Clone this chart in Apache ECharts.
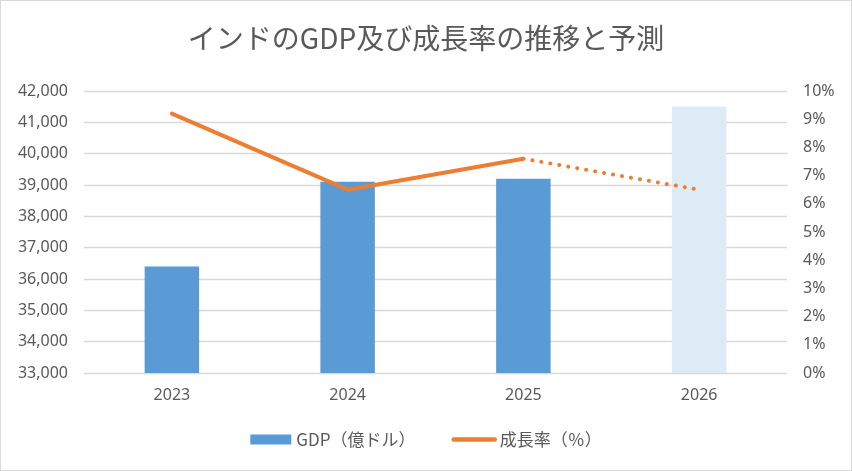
<!DOCTYPE html>
<html>
<head>
<meta charset="utf-8">
<script src="https://cdn.jsdelivr.net/npm/echarts@6/dist/echarts.min.js"></script>
<style>
  html, body { margin: 0; padding: 0; background: #fff; }
  #chart { width: 850px; height: 469px; border: 1px solid #d9d9d9; }
</style>
</head>
<body>
<div id="chart"></div>
<script>
  const years = ['2023', '2024', '2025', '2026'];
  const gdp = [36400, 39100, 39200, 41500];
  const growth = [9.2, 6.5, 7.6, 6.5];
  const forecastFrom = 2; // index where the forecast (dotted) part starts

  const font = '"Noto Sans", "Noto Sans CJK JP", sans-serif';
  const jpFont = '"Noto Sans CJK JP", sans-serif';
  const textColor = '#595959';

  const solidLine = growth.map((v, i) => (i <= forecastFrom ? v : '-'));
  const dottedLine = growth.map((v, i) => (i >= forecastFrom ? v : '-'));
  const barData = gdp.map((v, i) => ({
    value: v,
    itemStyle: i > forecastFrom ? {color: '#DDEBF7'} : undefined
  }));

  const chart = echarts.init(document.getElementById('chart'));
  chart.setOption({
    animation: false,
    textStyle: {fontFamily: font},
    title: {
      text: 'インドのGDP及び成長率の推移と予測',
      left: 'center',
      top: 18,
      textStyle: {fontFamily: jpFont, fontSize: 28, fontWeight: 'normal', color: textColor}
    },
    legend: {
      bottom: 17,
      itemGap: 36,
      itemWidth: 41,
      itemHeight: 10,
      textStyle: {fontFamily: jpFont, fontSize: 17, color: textColor},
      data: [
        {name: 'GDP（億ドル）', icon: 'rect'},
        {name: '成長率（％）', itemStyle: {opacity: 0}, lineStyle: {width: 4.5, cap: 'round'}}
      ]
    },
    grid: {left: 83, right: 64, top: 90, bottom: 97},
    xAxis: {
      type: 'category',
      data: years,
      axisLine: {lineStyle: {color: '#d9d9d9'}},
      axisTick: {show: false},
      axisLabel: {color: textColor, fontSize: 16, margin: 14}
    },
    yAxis: [{
      type: 'value',
      min: 33000,
      max: 42000,
      interval: 1000,
      axisLine: {show: false},
      axisTick: {show: false},
      splitLine: {lineStyle: {color: '#d9d9d9', width: 1.3}},
      axisLabel: {
        color: textColor, fontSize: 16, margin: 16,
        formatter: v => v.toLocaleString('en-US')
      }
    }, {
      type: 'value',
      min: 0,
      max: 10,
      interval: 1,
      axisLine: {show: false},
      axisTick: {show: false},
      splitLine: {show: false},
      axisLabel: {color: textColor, fontSize: 16, margin: 16, formatter: '{value}%'}
    }],
    series: [{
      name: 'GDP（億ドル）',
      type: 'bar',
      data: barData,
      barWidth: '31%',
      itemStyle: {color: '#5B9BD5'}
    }, {
      name: '成長率（％）',
      type: 'line',
      yAxisIndex: 1,
      data: solidLine,
      symbol: 'none',
      lineStyle: {color: '#ED7D31', width: 4, cap: 'round'},
      itemStyle: {color: '#ED7D31'}
    }, {
      name: '成長率（％）',
      type: 'line',
      yAxisIndex: 1,
      data: dottedLine,
      symbol: 'none',
      lineStyle: {color: '#ED7D31', width: 4, type: [0.1, 9], cap: 'round'},
      itemStyle: {color: '#ED7D31'}
    }]
  });
</script>
</body>
</html>
